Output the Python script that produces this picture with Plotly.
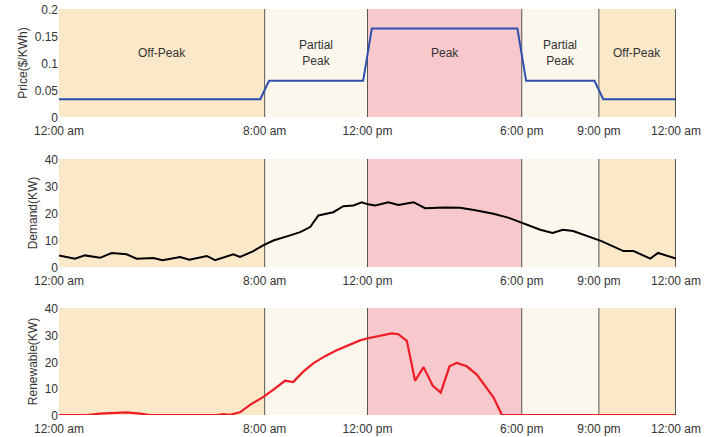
import plotly.graph_objects as go

# ---- data ----
tick_hours = [0, 8, 12, 18, 21, 24]
tick_labels = ["12:00 am", "8:00 am", "12:00 pm", "6:00 pm", "9:00 pm", "12:00 am"]

zone_starts = [0, 8, 12, 18, 21]
zone_ends = [8, 12, 18, 21, 24]
zone_names = ["Off-Peak", "Partial<br>Peak", "Peak", "Partial<br>Peak", "Off-Peak"]
zone_colors = ["#FAE8C9", "#FCF7EC", "#F8C9CC", "#FCF7EC", "#FAE8C9"]
dividers = [8, 12, 18, 21]

price_hours = [0, 7.83, 8.17, 11.83, 12.17, 17.83, 18.17, 20.83, 21.17, 24]
price_vals = [0.033, 0.033, 0.067, 0.067, 0.164, 0.164, 0.067, 0.067, 0.033, 0.033]

demand_hours = [0, 0.3, 0.62, 1.01, 1.3, 1.6, 2.05, 2.63, 3.02, 3.4, 3.67, 4.03, 4.4,
                4.71, 5.07, 5.4, 5.75, 6.07, 6.4, 6.78, 7.04, 7.56, 7.94, 8.34, 8.99,
                9.38, 9.77, 10.09, 10.67, 11.06, 11.45, 11.78, 12.02, 12.3, 12.81, 13.2,
                13.79, 14.24, 15.0, 15.6, 16.2, 16.9, 17.5, 18.08, 18.72, 19.2, 19.6,
                20.0, 21.1, 21.96, 22.35, 23.0, 23.3, 24]
demand_vals = [4.3, 3.8, 3.1, 4.3, 3.9, 3.4, 5.2, 4.7, 3.1, 3.3, 3.3, 2.5, 3.2,
               3.7, 2.7, 3.4, 4.1, 2.5, 3.5, 4.7, 3.7, 5.9, 8.0, 9.8, 11.7,
               12.9, 14.8, 19.1, 20.3, 22.5, 22.8, 24.0, 23.2, 22.8, 24.0, 23.0,
               24.0, 21.8, 22.0, 21.9, 21.0, 19.7, 18.2, 16.2, 13.8, 12.6, 13.8,
               13.3, 9.6, 5.9, 5.9, 3.1, 5.2, 3.1]

renew_hours = [0, 1.08, 1.6, 2.63, 3.15, 3.54, 6.14, 6.4, 6.65, 7.04, 7.43, 7.94,
               8.34, 8.79, 9.11, 9.5, 9.89, 10.35, 10.8, 11.32, 11.71, 12.02, 12.94,
               13.2, 13.53, 13.85, 14.18, 14.54, 14.85, 15.19, 15.47, 15.86, 16.25,
               16.9, 17.23, 24]
renew_vals = [0, 0, 0.5, 1.0, 0.5, 0, 0, 0.3, 0.1, 1.0, 3.8, 6.7,
              9.5, 12.8, 12.3, 16.2, 19.3, 22.0, 24.2, 26.3, 27.9, 28.7, 30.5,
              30.2, 27.7, 12.8, 17.9, 10.9, 8.4, 18.2, 19.5, 18.2, 15.1,
              6.6, 0, 0]

# ---- figure ----
W, H = 722, 437
ml, mr, mt, mb = 59, 46, 9, 22
ph = H - mt - mb
def dom(top_px, bot_px):
    return [(H - mb - bot_px) / ph, (H - mb - top_px) / ph]

domains = [dom(9, 117), dom(159, 267), dom(308, 415)]

fig = go.Figure()
fig.add_trace(go.Scatter(x=price_hours, y=price_vals, mode="lines",
                         line=dict(color="#2E4FAF", width=2), xaxis="x", yaxis="y"))
fig.add_trace(go.Scatter(x=demand_hours, y=demand_vals, mode="lines",
                         line=dict(color="#000000", width=2), xaxis="x2", yaxis="y2"))
fig.add_trace(go.Scatter(x=renew_hours, y=renew_vals, mode="lines",
                         line=dict(color="#EE1C25", width=2.2), xaxis="x3", yaxis="y3"))

font = dict(family="Liberation Sans, Arial, sans-serif", size=12, color="#333333")
shapes = []
annotations = []
axis_ids = [("x", "y"), ("x2", "y2"), ("x3", "y3")]
for i, (xa, ya) in enumerate(axis_ids):
    for s, e, c in zip(zone_starts, zone_ends, zone_colors):
        shapes.append(dict(type="rect", xref=xa, yref=f"{ya} domain", x0=s, x1=e, y0=0, y1=1,
                           fillcolor=c, line=dict(width=0), layer="below"))
    for d in dividers:
        shapes.append(dict(type="line", xref=xa, yref=f"{ya} domain", x0=d, x1=d, y0=0, y1=1,
                           line=dict(color="#555555", width=1), layer="below"))
    shapes.append(dict(type="line", xref=xa, yref=f"{ya} domain", x0=24, x1=24, y0=0, y1=1,
                       line=dict(color="#222222", width=1.5), layer="above"))

for s, e, n in zip(zone_starts, zone_ends, zone_names):
    annotations.append(dict(x=(s + e) / 2, y=0.118, xref="x", yref="y", text=n,
                            showarrow=False, font=font, align="center"))

xaxis_common = dict(range=[0, 24], tickmode="array", tickvals=tick_hours, ticktext=tick_labels,
                    showgrid=False, zeroline=False, showline=False, ticks="", tickfont=font,
                    ticklabelstandoff=5, automargin=False, fixedrange=True)
layout = dict(width=W, height=H, margin=dict(l=ml, r=mr, t=mt, b=mb),
              paper_bgcolor="white", plot_bgcolor="white", showlegend=False,
              hovermode=False, shapes=shapes, annotations=annotations, font=font)
titles = ["Price($/KWh)", "Demand(KW)", "Renewable(KW)"]
for i, (xa, ya) in enumerate(axis_ids):
    xk = "xaxis" if i == 0 else f"xaxis{i+1}"
    yk = "yaxis" if i == 0 else f"yaxis{i+1}"
    layout[xk] = dict(xaxis_common, anchor=ya, domain=[0, 1])
    if i == 0:
        yax = dict(range=[0, 0.2], tickvals=[0, 0.05, 0.1, 0.15, 0.2],
                   ticktext=["0", "0.05", "0.1", "0.15", "0.2"])
    else:
        yax = dict(range=[0, 40], tickvals=[0, 10, 20, 30, 40])
    yax.update(anchor=xa, domain=domains[i], showgrid=False, zeroline=False, showline=False,
               ticks="", tickfont=font, ticklabelshift=1, automargin=False,
               title=dict(text=titles[i], font=font, standoff=4),
               fixedrange=True)
    layout[yk] = yax

fig.update_layout(**layout)
fig.write_html("out.html")
